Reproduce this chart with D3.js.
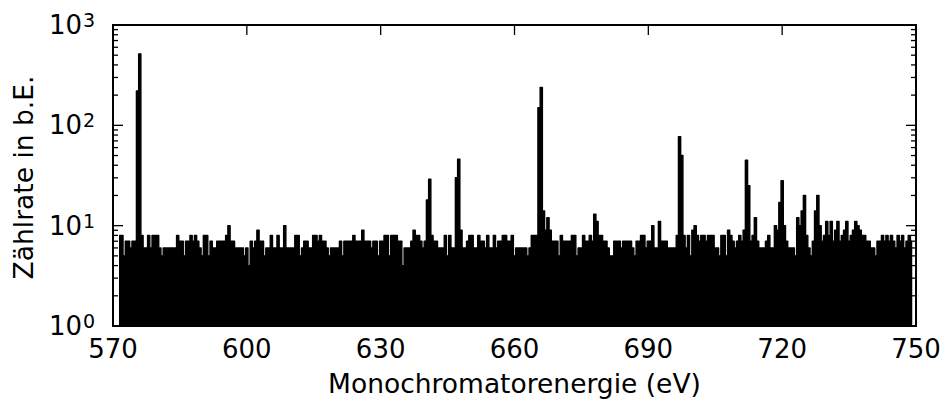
<!DOCTYPE html>
<html>
<head>
<meta charset="utf-8">
<script src="https://cdn.jsdelivr.net/npm/d3@7"></script>
<style>
  body { margin: 0; background: #fff; }
  text { font-family: "DejaVu Sans", sans-serif; fill: #000; }
</style>
</head>
<body>
<div id="chart"></div>
<script>
// Energy grid of the scan (eV), one reading every 0.5 eV
const startEnergy = 571.5;
const stepEnergy = 0.5;

// Counts, 571.5 ... 633.0 eV
const countsLow = [
  8, 8, 5, 7, 7, 6, 7, 7, 220, 516, 8, 6, 6, 8, 6, 8, 8, 8, 6, 5,
  6, 6, 6, 6, 6, 6, 8, 7, 7, 5, 7, 7, 8, 7, 8, 7, 6, 5, 8, 8,
  5, 7, 6, 6, 7, 7, 7, 7, 8, 10, 7, 7, 6, 6, 6, 6, 5, 6, 4, 7,
  6, 7, 9, 7, 7, 5, 6, 6, 8, 6, 6, 8, 6, 6, 10, 6, 6, 6, 6, 8,
  8, 5, 6, 7, 7, 6, 6, 8, 8, 7, 8, 7, 7, 6, 5, 6, 6, 6, 6, 7,
  5, 7, 7, 7, 7, 8, 7, 7, 7, 9, 7, 7, 7, 6, 7, 7, 5, 7, 7, 8,
  8, 5, 8, 8
];

// Counts 633.5 ... 696.5 eV
const countsMid = [
  8, 7, 7, 4, 6, 6, 6, 7, 9, 8,
  8, 7, 6, 7, 18, 29, 8, 7, 7, 6,
  6, 6, 8, 5, 8, 6, 6, 30, 46, 9,
  6, 6, 7, 8, 8, 6, 6, 8, 7, 7,
  6, 8, 6, 6, 8, 6, 7, 7, 8, 8,
  7, 7, 8, 5, 6, 6, 6, 6, 6, 5,
  6, 8, 8, 8, 150, 238, 14, 9, 12, 9,
  7, 7, 7, 5, 8, 7, 7, 7, 7, 8,
  8, 5, 6, 6, 8, 7, 7, 8, 7, 13,
  11, 8, 8, 7, 7, 6, 5, 5, 7, 7,
  7, 6, 7, 7, 7, 7, 6, 5, 7, 7,
  8, 8, 6, 7, 7, 10, 6, 6, 11, 7,
  7, 7, 6, 6, 6, 6, 8
];

// Counts 697.0 ... 749.0 eV
const countsHigh = [
  77, 50, 8, 6, 8, 5, 9, 10, 8, 7,
  8, 8, 7, 8, 8, 8, 6, 6, 5, 8,
  8, 5, 9, 8, 7, 6, 7, 8, 7, 9,
  45, 25, 7, 8, 12, 7, 6, 6, 6, 7,
  8, 6, 6, 10, 9, 17, 28, 10, 7, 6,
  6, 6, 5, 12, 10, 14, 20, 8, 6, 5,
  7, 14, 20, 10, 7, 8, 11, 8, 11, 7,
  9, 11, 7, 8, 9, 11, 7, 8, 9, 11,
  10, 9, 8, 8, 7, 7, 6, 6, 5, 7,
  7, 8, 7, 8, 7, 8, 7, 6, 8, 7,
  8, 6, 7, 8, 7
];

const xTicks = [570, 600, 630, 660, 690, 720, 750];
const yTicks = [1, 10, 100, 1000];
const yExponents = ["0", "1", "2", "3"];
const minorBase = [2, 3, 4, 5, 6, 7, 8, 9];

const counts = countsLow.concat(countsMid, countsHigh);
const data = counts.map((c, i) => ({ e: startEnergy + i * stepEnergy, c: c }));

// Set the dimensions and margins of the graph
const margin = { top: 25, right: 27, bottom: 78, left: 113 };
const width = 943 - margin.left - margin.right;
const height = 404 - margin.top - margin.bottom;

const svg = d3.select("#chart")
  .append("svg")
  .attr("width", 943)
  .attr("height", 404)
  .append("g")
  .attr("transform", `translate(${margin.left},${margin.top})`);

const x = d3.scaleLinear().domain([570, 750]).range([0, width]);
const y = d3.scaleLog().domain([1, 1000]).range([height, 0]);

svg.append("clipPath")
  .attr("id", "clip")
  .append("rect")
  .attr("width", width)
  .attr("height", height);

// Filled spectrum, drawn as steps
const area = d3.area()
  .curve(d3.curveStep)
  .x(d => x(d.e))
  .y0(y(1))
  .y1(d => y(d.c));

svg.append("path")
  .datum(data)
  .attr("clip-path", "url(#clip)")
  .attr("fill", "#000")
  .attr("stroke", "#000")
  .attr("stroke-width", 1.4)
  .attr("stroke-linejoin", "round")
  .attr("d", area);

// Ticks, pointing inwards on all four sides
const tickG = svg.append("g")
  .attr("stroke", "#000")
  .attr("stroke-width", 1.3);

xTicks.forEach(t => {
  tickG.append("line")
    .attr("x1", x(t)).attr("x2", x(t))
    .attr("y1", height).attr("y2", height - 10);
  tickG.append("line")
    .attr("x1", x(t)).attr("x2", x(t))
    .attr("y1", 0).attr("y2", 10);
});

yTicks.forEach(t => {
  tickG.append("line")
    .attr("x1", 0).attr("x2", 10)
    .attr("y1", y(t)).attr("y2", y(t));
  tickG.append("line")
    .attr("x1", width).attr("x2", width - 10)
    .attr("y1", y(t)).attr("y2", y(t));
});

yTicks.slice(0, 3).forEach(t => {
  minorBase.forEach(m => {
    const v = t * m;
    tickG.append("line")
      .attr("x1", 0).attr("x2", 5)
      .attr("y1", y(v)).attr("y2", y(v));
    tickG.append("line")
      .attr("x1", width).attr("x2", width - 5)
      .attr("y1", y(v)).attr("y2", y(v));
  });
});

// Frame
svg.append("rect")
  .attr("width", width)
  .attr("height", height)
  .attr("fill", "none")
  .attr("stroke", "#000")
  .attr("stroke-width", 2);

// Tick labels
svg.append("g")
  .selectAll("text")
  .data(xTicks)
  .join("text")
  .attr("x", d => x(d))
  .attr("y", height + 32)
  .attr("text-anchor", "middle")
  .attr("font-size", 26)
  .text(d => d);

const yLab = svg.append("g")
  .selectAll("g")
  .data(yTicks)
  .join("g")
  .attr("transform", d => `translate(0,${y(d)})`);

yLab.append("text")
  .attr("x", -31)
  .attr("y", 9)
  .attr("text-anchor", "end")
  .attr("font-size", 26)
  .text("10");

yLab.append("text")
  .attr("x", -30)
  .attr("y", 2)
  .attr("font-size", 19)
  .text((d, i) => yExponents[i]);

// Axis titles
svg.append("text")
  .attr("x", width / 2)
  .attr("y", height + 67)
  .attr("text-anchor", "middle")
  .attr("font-size", 26.5)
  .text("Monochromatorenergie (eV)");

svg.append("text")
  .attr("transform", `translate(${33 - margin.left},${height / 2 + 2}) rotate(-90)`)
  .attr("text-anchor", "middle")
  .attr("font-size", 26.5)
  .text("Zählrate in b.E.");
</script>
</body>
</html>
